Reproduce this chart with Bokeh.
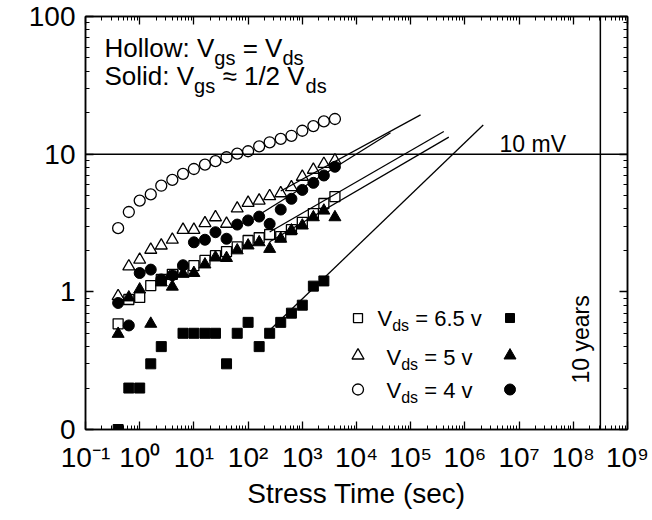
import math
from bokeh.plotting import figure
from bokeh.models import ColumnDataSource, FixedTicker, LogAxis, Span, Label
from bokeh.core.properties import value
from bokeh.embed import file_html
from bokeh.resources import INLINE

nan = float("nan")

# ---------------- data ----------------
stress_time = [0.4, 0.63, 1.0, 1.6, 2.5, 4.0, 6.3, 10, 16, 25, 40, 63,
               100, 160, 250, 400, 630, 1000, 1600, 2500, 4000]

# Vds = 4 V
dvth_4v_hollow = [2.9, 3.8, 4.6, 5.1, 5.9, 6.5, 7.2, 7.8, 8.4, 8.9, 9.5, 10.1,
                  10.5, 11.4, 12.2, 12.9, 13.6, 14.8, 16.0, 17.3, 18.0]
dvth_4v_solid = [0.83, 0.57, 1.37, 1.45, 1.23, 1.32, 1.56, 2.29, 2.39, 2.71, 2.43, 3.08,
                 3.30, 3.52, 3.12, 3.96, 4.74, 5.50, 6.19, 7.0, 8.1]
# Vds = 5 V
dvth_5v_hollow = [0.93, 1.53, 1.71, 2.02, 2.17, 2.39, 2.82, 2.82, 3.15, 3.48, 3.12, 4.03,
                  4.43, 4.60, 4.95, 5.20, 5.75, 6.85, 7.7, 8.5, 9.0]
dvth_5v_solid = [0.495, 0.91, 1.04, 0.586, 1.17, 1.09, 1.35, 1.37, 1.58, 1.78, 1.76, 2.0,
                 2.17, 2.29, 2.05, 2.43, 2.79, 3.03, 3.48, 3.89, 3.48]
# Vds = 6.5 V
dvth_65v_hollow = [0.586, 0.88, 0.91, 1.11, 1.23, 1.34, 1.45, 1.55, 1.69, 1.83, 1.96, 2.12,
                   2.36, 2.47, 2.61, 2.52, 2.83, 3.20, 3.70, 4.38, 4.92]
dvth_65v_solid = [0.1, 0.2, 0.2, 0.3, 0.4, nan, 0.5, 0.5, 0.5, 0.5, 0.3, 0.5,
                  0.6, 0.4, 0.5, 0.6, 0.7, 0.8, 1.1, 1.2, nan]

# power-law fit lines (hollow 5V, solid 4V, hollow 6.5V, solid 5V, solid 6.5V)
fit_t_start = [400, 160, 250, 250, 250]
fit_t_end = [1.52e5, 4.24e4, 4.08e5, 5.05e5, 2.18e6]
fit_v_start = [5.4, 3.63, 2.72, 2.31, 0.526]
fit_v_end = [19.3, 14.3, 14.6, 13.3, 16.3]

limit_mv = 10
ten_years_s = 3.156e8

x_ticks = [0.1, 1, 10, 100, 1e3, 1e4, 1e5, 1e6, 1e7, 1e8, 1e9]
x_tick_labels = ["10\u207b\u00b9", "10\u2070", "10\u00b9", "10\u00b2", "10\u00b3", "10\u2074",
                 "10\u2075", "10\u2076", "10\u2077", "10\u2078", "10\u2079"]
y_ticks = [0.1, 1, 10, 100]
y_tick_labels = ["0", "1", "10", "100"]

# ---------------- layout helpers (page px -> data) ----------------
FRAME_L, FRAME_B, PX_DEC_X, PX_DEC_Y = 85.0, 429.0, 54.2, 137.7


def xd(px):
    return 10 ** ((px - FRAME_L) / PX_DEC_X - 1)


def yd(py):
    return 10 ** ((FRAME_B - py) / PX_DEC_Y - 1)


FONT = "Liberation Sans"
BASE_FIX = 0.23  # baseline correction, fraction of font size
W = {' ': .278, ':': .278, '=': .584, '\u2248': .584, '/': .278, '.': .278,
     'H': .722, 'o': .556, 'l': .222, 'w': .722, 'V': .667, 'g': .556, 's': .5,
     'd': .556, 'S': .667, 'i': .222, 'v': .5, 'm': .833}


def tw(s, size):
    return sum(W.get(c, 0.556) for c in s) * size


p = figure(width=652, height=520, x_axis_type="log", y_axis_type="log",
           x_range=(0.1, 1e9), y_range=(0.1, 100),
           output_backend="svg", toolbar_location=None,
           min_border_left=85, min_border_right=25, min_border_top=16, min_border_bottom=91)
p.grid.visible = False
p.outline_line_color = "black"
p.outline_line_width = 1.5

x_minor = [m * 10.0 ** e for e in range(-1, 9) for m in range(2, 10)]
y_minor = [m * 10.0 ** e for e in range(-1, 2) for m in range(2, 10)]


def style_axis(ax):
    ax.axis_line_width = 1.5
    ax.major_tick_line_width = 1.3
    ax.minor_tick_line_width = 1.0
    ax.major_tick_in = 8
    ax.major_tick_out = 0
    ax.minor_tick_in = 4
    ax.minor_tick_out = 0
    ax.major_label_text_font = FONT
    ax.major_label_text_color = "black"
    ax.axis_label_text_font = FONT
    ax.axis_label_text_font_style = "normal"
    ax.axis_label_text_color = "black"


xa = p.xaxis[0]
xa.ticker = FixedTicker(ticks=x_ticks, minor_ticks=x_minor)
xa.major_label_overrides = dict(zip(x_ticks, x_tick_labels))
style_axis(xa)
xa.major_label_text_font_size = "28px"
xa.major_label_standoff = 12
xa.axis_label = "Stress Time (sec)"
xa.axis_label_text_font_size = "28px"
xa.axis_label_standoff = 2

ya = p.yaxis[0]
ya.ticker = FixedTicker(ticks=y_ticks, minor_ticks=y_minor)
ya.major_label_overrides = dict(zip(y_ticks, y_tick_labels))
style_axis(ya)
ya.major_label_text_font_size = "28px"
ya.major_label_standoff = 10

top = LogAxis(ticker=FixedTicker(ticks=x_ticks, minor_ticks=x_minor),
              major_label_overrides={t: "" for t in x_ticks})
style_axis(top)
top.major_label_text_font_size = "1px"
top.major_label_standoff = 0
p.add_layout(top, "above")

right = LogAxis(ticker=FixedTicker(ticks=y_ticks, minor_ticks=y_minor),
                major_label_overrides={t: "" for t in y_ticks})
style_axis(right)
right.major_label_text_font_size = "1px"
right.major_label_standoff = 0
p.add_layout(right, "right")

# reference lines
p.add_layout(Span(location=limit_mv, dimension="width", line_color="black", line_width=1.5))
p.add_layout(Span(location=ten_years_s, dimension="height", line_color="black", line_width=1.5))

# fit lines
p.segment(x0=fit_t_start, y0=fit_v_start, x1=fit_t_end, y1=fit_v_end,
          line_color="black", line_width=1.3)

# data markers
src = ColumnDataSource(dict(t=stress_time,
                            h4=dvth_4v_hollow, s4=dvth_4v_solid,
                            h5=dvth_5v_hollow, s5=dvth_5v_solid,
                            h65=dvth_65v_hollow, s65=dvth_65v_solid))
LW = 1.3
p.scatter("t", "h65", source=src, marker="square", size=10, fill_color=None, line_color="black", line_width=LW)
p.scatter("t", "h5", source=src, marker="triangle", size=12, fill_color=None, line_color="black", line_width=LW)
p.scatter("t", "h4", source=src, marker="circle", size=11, fill_color=None, line_color="black", line_width=LW)
p.scatter("t", "s65", source=src, marker="square", size=10, fill_color="black", line_color="black")
p.scatter("t", "s5", source=src, marker="triangle", size=12, fill_color="black", line_color="black")
p.scatter("t", "s4", source=src, marker="circle", size=11, fill_color="black", line_color="black")

# legend markers
leg_rows_py = [317.5, 355.0, 389.0]
leg_markers = ["square", "triangle", "circle"]
leg_sizes = [9, 12, 11]
p.scatter([xd(357.5)] * 3, [yd(v) for v in leg_rows_py], marker=leg_markers, size=leg_sizes,
          fill_color=None, line_color="black", line_width=LW)
p.scatter([xd(509.5)] * 3, [yd(v) for v in leg_rows_py], marker=leg_markers, size=leg_sizes,
          fill_color="black", line_color="black")

# ---------------- texts ----------------
rows = dict(x=[], y=[], text=[], fs=[])


def add_runs(start_px, base_py, runs):
    cur = start_px
    for txt, size, dy in runs:
        lead = len(txt) - len(txt.lstrip(" "))
        cur += tw(" " * lead, size)
        body = txt.strip(" ")
        rows["x"].append(xd(cur))
        rows["y"].append(yd(base_py + dy - BASE_FIX * size))
        rows["text"].append(body)
        rows["fs"].append(f"{size}px")
        cur += tw(body, size)


MS, SS, SD = 26, 20, 8.5
add_runs(104, 53.3, [("Hollow: V", MS, 0), ("gs", SS, SD), (" = V", MS, 0), ("ds", SS, SD)])
add_runs(104, 81.7, [("Solid: V", MS, 0), ("gs", SS, SD), (" \u2248 1/2 V", MS, 0), ("ds", SS, SD)])

LS, LSS, LSD = 22, 16, 5.5
add_runs(377, 323.3, [("V", LS, 0), ("ds", LSS, LSD), (" = 6.5 v", LS, 0)])
add_runs(386, 361.7, [("V", LS, 0), ("ds", LSS, LSD), (" = 5 v", LS, 0)])
add_runs(386, 395.0, [("V", LS, 0), ("ds", LSS, LSD), (" = 4 v", LS, 0)])

add_runs(499, 149.0, [("10 mV", 23, 0)])

p.text(x="x", y="y", text="text", source=ColumnDataSource(rows), text_font=value(FONT),
       text_font_size="fs", text_align="left", text_baseline="alphabetic", text_color="black")

p.text(x=[ten_years_s], y=[yd(383)], text=["10 years"], x_offset=-14 - BASE_FIX * 23,
       angle=math.pi / 2,
       text_font=value(FONT), text_font_size="23px", text_align="left",
       text_baseline="alphabetic", text_color="black")

p.add_layout(Label(x=xd(21), y=yd(238), text="\u0394Vth  (mV)", angle=math.pi / 2,
                   text_font=FONT, text_font_size="32px", text_align="center",
                   text_baseline="middle", text_color="black"))

open("out.html", "w").write(file_html(p, INLINE))
